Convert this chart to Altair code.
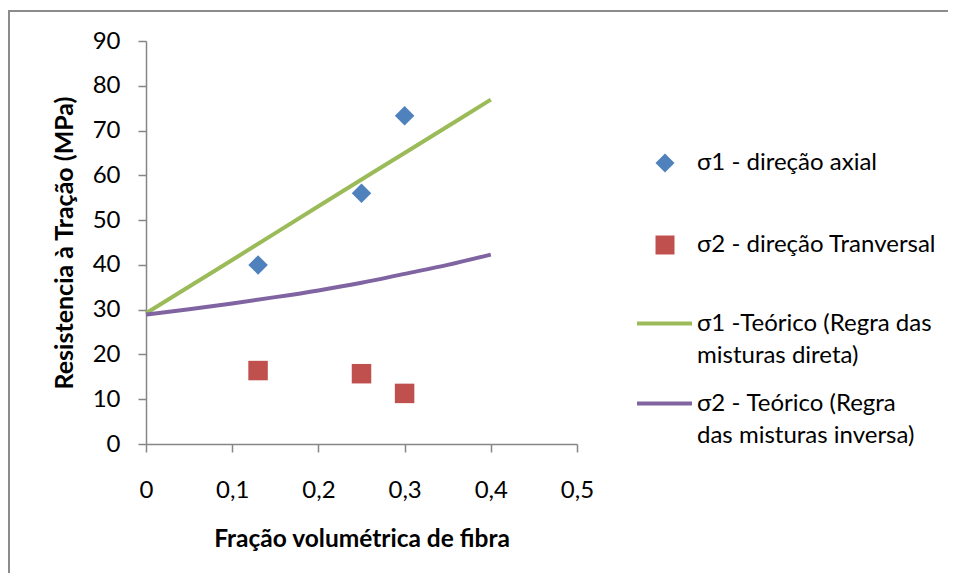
import altair as alt
import pandas as pd

# --- data ---
s_axial = "σ1 - direção axial"
s_trans = "σ2 - direção Tranversal"
s_dir = "σ1 -Teórico (Regra das|misturas direta)"
s_inv = "σ2 - Teórico  (Regra|das misturas inversa)"

x_axial = [0.13, 0.25, 0.30]
y_axial = [40.0, 56.0, 73.3]
x_trans = [0.13, 0.25, 0.30]
y_trans = [16.4, 15.7, 11.3]

x_dir = [0.0, 0.1, 0.2, 0.3, 0.4]
y_dir = [29.2, 41.1, 53.1, 65.0, 76.9]
x_inv = [0.0, 0.05, 0.1, 0.15, 0.2, 0.25, 0.3, 0.35, 0.4]
y_inv = [28.9, 30.1, 31.4, 32.8, 34.3, 36.0, 38.0, 40.0, 42.3]

x_ticks = [0, 0.1, 0.2, 0.3, 0.4, 0.5]
y_ticks = [0, 10, 20, 30, 40, 50, 60, 70, 80, 90]

BLUE, RED, GREEN, PURPLE = "#4F81BD", "#C0504D", "#9BBB59", "#8064A2"
FONT = "Lato"
AX = "#868686"
FRAME = "#8C8C8C"
FS = 24

pts = pd.DataFrame(
    {"x": x_axial + x_trans, "y": y_axial + y_trans,
     "serie": [s_axial] * len(x_axial) + [s_trans] * len(x_trans)}
)
lines = pd.DataFrame(
    {"x": x_dir + x_inv, "y": y_dir + y_inv,
     "teoria": [s_dir] * len(x_dir) + [s_inv] * len(x_inv)}
)

x_enc = alt.X(
    "x:Q",
    scale=alt.Scale(domain=[0, 0.5], nice=False),
    axis=alt.Axis(
        values=x_ticks, grid=False, title="Fração volumétrica de fibra",
        labelExpr="datum.value == 0 ? '0' : replace(format(datum.value, '.1f'), '.', ',')",
        labelPadding=26, titlePadding=25, labelFlush=False, titleFontSize=24.5,
    ),
)
y_enc = alt.Y(
    "y:Q",
    scale=alt.Scale(domain=[0, 90], nice=False),
    axis=alt.Axis(values=y_ticks, grid=False, title="Resistencia à Tração (MPa)",
                  labelPadding=18, titlePadding=15, titleFontSize=25),
)

pt_legend = alt.Legend(
    title=None, orient="none", legendX=507, legendY=110, rowPadding=56,
    symbolSize=361, labelOffset=20, padding=0, labelBaseline="middle", labelLimit=400,
)
points = alt.Chart(pts).mark_point(filled=True, opacity=1, size=380).encode(
    x=x_enc, y=y_enc,
    fill=alt.Fill("serie:N", scale=alt.Scale(domain=[s_axial, s_trans], range=[BLUE, RED]),
                  legend=pt_legend),
    shape=alt.Shape("serie:N", scale=alt.Scale(domain=[s_axial, s_trans], range=["diamond", "square"]),
                    legend=pt_legend),
)

ln_legend = alt.Legend(
    title=None, orient="none", legendX=489, legendY=253, rowPadding=6,
    symbolSize=3025, symbolStrokeWidth=4, labelOffset=3, padding=0,
    labelBaseline="middle", labelExpr="split(datum.label, '|')", labelLimit=400,
)
theory = alt.Chart(lines).mark_line(strokeWidth=4, interpolate="monotone").encode(
    x="x:Q", y="y:Q",
    stroke=alt.Stroke("teoria:N", scale=alt.Scale(domain=[s_dir, s_inv], range=[GREEN, PURPLE]),
                      legend=ln_legend),
    order="x:Q",
)

# chart-area frame (top and left edges; the others run off the picture)
one = pd.DataFrame({"a": [0]})
frame_top = alt.Chart(one).mark_rect(fill=FRAME, strokeWidth=0).encode(
    x=alt.value(-138), x2=alt.value(802), y=alt.value(-31), y2=alt.value(-29))
frame_left = alt.Chart(one).mark_rect(fill=FRAME, strokeWidth=0).encode(
    x=alt.value(-138), x2=alt.value(-136), y=alt.value(-31), y2=alt.value(540))

config = alt.Config(
    view=alt.ViewConfig(stroke="transparent"),
    axis=alt.AxisConfig(
        domainColor=AX, domainWidth=1.5, tickColor=AX, tickWidth=1.5, tickSize=8,
        labelFont=FONT, labelFontSize=FS, labelColor="black",
        titleFont=FONT, titleFontSize=FS, titleFontWeight="bold", titleColor="black",
    ),
    legend=alt.LegendConfig(labelFont=FONT, labelFontSize=FS, labelColor="black"),
    style={"guide-label": {"lineHeight": 32}},
)

chart = alt.layer(frame_top, frame_left, theory, points).properties(
    width=431, height=403,
    autosize=alt.AutoSizeParams(type="none"),
    padding={"left": 138, "top": 33, "right": 371, "bottom": 129},
    config=config,
)

chart.save("out.html", embed_options={"renderer": "svg", "actions": False})
